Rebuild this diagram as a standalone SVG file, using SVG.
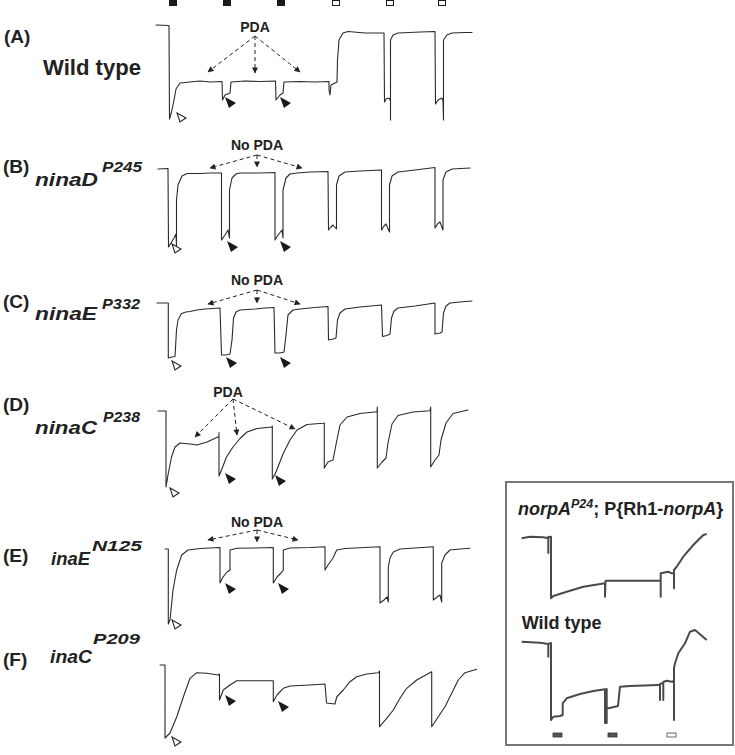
<svg xmlns="http://www.w3.org/2000/svg" xmlns:xlink="http://www.w3.org/1999/xlink" width="735" height="755" viewBox="0 0 735 755">
<style>
.tr{fill:none;stroke:#2a2a2a;stroke-width:1.1;stroke-linejoin:round;stroke-linecap:round}
.it{fill:none;stroke:#4a4a4a;stroke-width:2;stroke-linejoin:round}
.pl{font-family:"Liberation Sans",Arial,sans-serif;font-weight:bold;font-size:19px;fill:#222}
.gn{font-family:"Liberation Sans",Arial,sans-serif;font-weight:bold;font-style:italic;font-size:19px;fill:#222}
.sp{font-family:"Liberation Sans",Arial,sans-serif;font-weight:bold;font-style:italic;font-size:15px;fill:#222}
.wt{font-family:"Liberation Sans",Arial,sans-serif;font-weight:bold;font-size:22px;fill:#222}
.pda{font-family:"Liberation Sans",Arial,sans-serif;font-weight:bold;font-size:14px;fill:#222;text-anchor:middle}
.da{fill:none;stroke:#222;stroke-width:1;stroke-dasharray:4 3;marker-end:url(#ah)}
.ins{font-family:"Liberation Sans",Arial,sans-serif;font-weight:bold;font-size:18px;fill:#222}
</style>
<defs>
<marker id="ah" viewBox="0 0 10 10" refX="9" refY="5" markerWidth="7" markerHeight="6" markerUnits="userSpaceOnUse" orient="auto"><path d="M0,0 L10,5 L0,10 z" fill="#222"/></marker>
<polygon id="tb" points="0,0 11,6 4,11" fill="#1a1a1a"/>
<polygon id="to" points="0,0 9,5 3,9" fill="#fff" stroke="#222" stroke-width="1.1"/>
</defs>
<rect width="735" height="755" fill="#fff"/>

<g id="stimulus">
<rect x="169" y="0" width="8" height="6" fill="#1a1a1a"/>
<rect x="223" y="0" width="8" height="6" fill="#1a1a1a"/>
<rect x="277" y="0" width="8" height="6" fill="#1a1a1a"/>
<rect x="332.5" y="0.5" width="7" height="5" fill="#fff" stroke="#1a1a1a"/>
<rect x="386.5" y="0.5" width="7" height="5" fill="#fff" stroke="#1a1a1a"/>
<rect x="438.5" y="0.5" width="7" height="5" fill="#fff" stroke="#1a1a1a"/>
</g>

<g id="panelA">
<text class="pl" x="4" y="43">(A)</text>
<text class="wt" x="43" y="75" textLength="98" lengthAdjust="spacingAndGlyphs">Wild type</text>
<text class="pda" x="255" y="32">PDA</text>
<path class="tr" d="M156,25 L169,25.5 L169.5,119 L171.5,112 L174,100 L176,89 L180,83 L190,82 L200,81 L210,82 L222,81.5 L222.5,100 L225,95 L230,93 L231,82 L245,81 L260,81.5 L275.5,81 L276,100 L280,95 L283,93 L284,82 L300,81.5 L315,82 L329,81.5 L329,90 L330,95 L331,85 L337,82 L337.5,60 L339,40 L343,33 L348,31.5 L365,33 L384,33 L384.5,102 L386,99 L389,98 L390.5,101 L390.5,120 L390.5,40 L393,35 L398,33 L420,32 L435,31.5 L435.5,104 L438,100 L442,98 L443,101 L443.5,120 L443.5,40 L447,35 L452,33 L465,32.5 L472,32.5"/>
<use xlink:href="#to" x="177" y="113"/>
<use xlink:href="#tb" x="225" y="97"/>
<use xlink:href="#tb" x="280" y="97"/>
</g>

<g id="panelB">
<text class="pl" x="3" y="173">(B)</text>
<text class="gn" x="35" y="186" textLength="63" lengthAdjust="spacingAndGlyphs">ninaD</text>
<text class="sp" x="102" y="172" textLength="40" lengthAdjust="spacingAndGlyphs">P245</text>
<text class="pda" x="257" y="150">No PDA</text>
<path class="tr" d="M158,169 L168,168.5 L168.5,247 L171,243 L174,238 L176,234 L176.5,246 L176.5,200 L178,185 L182,176 L187,173.5 L200,173.5 L210,173 L221.5,173 L221.5,240 L225,235 L228,230 L229.5,238 L229.5,190 L232,178 L236,174 L240,173 L260,173 L275,172.5 L275,240 L278,235 L282,230 L283,238 L283,190 L286,178 L290,174 L297,173 L310,172 L328,171.5 L328.5,230 L331,227 L333,225 L336.5,229 L336.5,185 L339,176 L345,172 L360,171 L381.5,170 L381.5,230 L384,226 L386,224 L389.5,232 L389.5,185 L392,176 L398,172 L415,170 L435,167.5 L435,228 L437.5,224 L440,222 L443,230 L443,180 L446,172 L452,169 L470,168"/>
<use xlink:href="#to" x="172" y="244"/>
<use xlink:href="#tb" x="227" y="241"/>
<use xlink:href="#tb" x="280" y="241"/>
</g>

<g id="panelC">
<text class="pl" x="3" y="308">(C)</text>
<text class="gn" x="35" y="320" textLength="62" lengthAdjust="spacingAndGlyphs">ninaE</text>
<text class="sp" x="102" y="309" textLength="38" lengthAdjust="spacingAndGlyphs">P332</text>
<text class="pda" x="257" y="285">No PDA</text>
<path class="tr" d="M157,303 L168.3,303 L168.3,358 L172,357 L175,356.5 L176.5,330 L178,320 L181.5,313.5 L186,312 L190,311.5 L197,310 L205,309 L213,308.5 L220,308 L221.5,355 L226,355 L230,354 L232,340 L233.5,318 L236,312 L240,310 L255,309 L265,308 L274,307.5 L275,353 L280,353 L284,352 L286,335 L288,315 L293,310 L300,309 L315,307.5 L328,306.5 L328.5,340 L333,339 L336,338 L337.5,320 L340,313 L345,309 L360,307 L381.5,305 L382.5,336.5 L387,335.5 L390,334 L391.5,318 L394,311 L398,308 L415,306 L435,303 L435,334 L440,333 L442,332 L443.5,313 L446,306 L450,303 L460,302 L472,301"/>
<use xlink:href="#to" x="172" y="361"/>
<use xlink:href="#tb" x="226" y="357"/>
<use xlink:href="#tb" x="280" y="357"/>
</g>

<g id="panelD">
<text class="pl" x="3" y="411">(D)</text>
<text class="gn" x="35" y="434" textLength="62" lengthAdjust="spacingAndGlyphs">ninaC</text>
<text class="sp" x="103" y="422" textLength="37" lengthAdjust="spacingAndGlyphs">P238</text>
<text class="pda" x="228" y="397">PDA</text>
<path class="tr" d="M158,411 L166,411 L166,487 L168,475 L171.5,457 L175,447 L180,443 L190,444 L197,445 L207,442 L219,436.5 L219,432.5 L219,476 L221.5,470 L226.5,457 L233,447 L240,438.5 L247,432 L257,428.5 L272,427 L272.3,426 L272.3,479 L276,472 L283,454 L290,440 L297,430 L307,424.5 L323,423.3 L324.3,423 L324.3,468 L328,462 L333,460 L336.5,442 L340,425 L347,417 L360,413.5 L377,411.7 L377.3,407 L377.3,468 L382,462 L386,458 L388,443 L392,424 L398,415.5 L413,412 L430,410.7 L430.7,407 L430.7,467 L435,460 L439,455 L441,440 L446,423 L453,413.5 L468,410"/>
<use xlink:href="#to" x="170" y="488"/>
<use xlink:href="#tb" x="225" y="473"/>
<use xlink:href="#tb" x="275" y="475"/>
</g>

<g id="panelE">
<text class="pl" x="3" y="562">(E)</text>
<text class="gn" x="51" y="565" textLength="39" lengthAdjust="spacingAndGlyphs">inaE</text>
<text class="sp" x="92" y="551" textLength="50" lengthAdjust="spacingAndGlyphs">N125</text>
<text class="pda" x="257" y="527">No PDA</text>
<path class="tr" d="M165,549 L168.3,549 L168.3,624 L170,620 L173,590 L176.7,570 L181.7,555 L188,550 L200,548.5 L210,548 L220,547.5 L220,583 L223,577 L227,572 L230,570 L230,550 L236.7,548.3 L255,548 L273.3,547.5 L273.3,583 L277,577 L281,573 L283.3,570 L283.3,550 L290,548 L310,547.5 L325,546.7 L325,570 L328,565 L333,558 L336.7,550 L345,548.5 L365,547.5 L380,546.7 L380,603 L384,600 L387,597 L388.3,602 L388.3,567 L390,558 L393.3,552 L400,549 L415,548 L433.3,546.7 L433.3,600 L437,597 L440,595 L441.7,602 L441.7,563 L445,555 L450,550 L460,549 L470,548.3"/>
<use xlink:href="#to" x="172" y="620"/>
<use xlink:href="#tb" x="225" y="583"/>
<use xlink:href="#tb" x="278" y="583"/>
</g>

<g id="panelF">
<text class="pl" x="3" y="666">(F)</text>
<text class="gn" x="50" y="663" textLength="42" lengthAdjust="spacingAndGlyphs">inaC</text>
<text class="sp" x="93" y="644" textLength="47" lengthAdjust="spacingAndGlyphs">P209</text>
<path class="tr" d="M160,665 L165,665 L165,738 L170,733 L176.7,717 L183.3,697 L190,678.3 L196.7,672.7 L206.7,673.3 L218.3,675 L219.5,674 L219.5,700 L223.3,690 L230,685 L236.7,680.7 L255,680.7 L273.3,680.7 L273.3,701.7 L277,695 L283.3,688.3 L290,686 L310,685 L325,684 L326.5,703 L335,704 L336.7,697 L343.3,690 L350,681.7 L356.7,676.7 L366.7,674 L378.3,672.7 L379.5,671 L379.5,726.7 L386.7,718.3 L393.3,710 L400,698.3 L406.7,688.3 L416.7,680 L431.7,671.7 L431.7,726.7 L438.3,716.7 L445,706.7 L451.7,693.3 L458.3,680 L465,672.7 L476.7,669.3"/>
<use xlink:href="#to" x="172" y="737"/>
<use xlink:href="#tb" x="225" y="695"/>
<use xlink:href="#tb" x="278" y="701"/>
</g>

<g id="inset">
<rect x="506" y="482" width="227" height="263" fill="#fff" stroke="#777" stroke-width="2"/>
<text class="ins" x="518" y="515" font-size="18.6px"><tspan font-style="italic">norpA</tspan><tspan font-style="italic" font-size="12.5px" dy="-7">P24</tspan><tspan dy="7">; P{Rh1-</tspan><tspan font-style="italic">norpA</tspan>}</text>
<path class="it" d="M521.7,538.3 L530,536.7 L543.3,537.3 L548.3,538.3 L548.3,553 L548.3,537 L551,536.7 L551,598.3 L553.3,596 L566.7,591.7 L583.3,586.7 L605,583.3 L605,596.7 L605.5,581 L606.7,580.7 L630,580.7 L656.7,580.7 L660.7,580.5 L660.7,596.7 L660.7,573.3 L663.3,572.7 L668.3,571.7 L671.7,573.3 L674,573 L674,588.3 L674,570 L676.7,566.7 L683.3,556.7 L693.3,545 L703.3,535 L706.7,534"/>
<text class="ins" x="521.7" y="629">Wild type</text>
<path class="it" d="M521.7,641.7 L540,642.7 L548.3,644 L548.3,656.7 L548.3,644 L551,643 L551,720 L553.3,716.7 L560,716 L562.7,715 L562.7,703.3 L566.7,698.3 L580,694 L593.3,691 L605,689.3 L605,723 L606.7,723 L606.7,689 L606.7,708.3 L608.3,708.3 L615,706.7 L618,706 L620,686.7 L630,686 L658.3,685 L660,685 L660,700 L660,684 L663.3,683 L663.3,700 L663.3,682 L666.7,680.7 L671.7,681.7 L674,681 L674,720 L674,668 L675,663.3 L678.3,653.3 L685,643.3 L690,631.7 L695,630 L706.7,640"/>
<rect x="553" y="733" width="9" height="4" fill="#555" stroke="#333" stroke-width="0.8"/>
<rect x="608" y="733" width="9" height="4" fill="#555" stroke="#333" stroke-width="0.8"/>
<rect x="667" y="733" width="9" height="4" fill="#fff" stroke="#444" stroke-width="0.8"/>
</g>

<g id="connectors">
<path class="da" d="M255,36 L208,72"/>
<path class="da" d="M255,36 L255,73"/>
<path class="da" d="M255,36 L300,72"/>
<path class="da" d="M257,155 L210,168"/>
<path class="da" d="M257,155 L257,167"/>
<path class="da" d="M257,155 L302,168"/>
<path class="da" d="M257,290 L208,304"/>
<path class="da" d="M257,290 L257,303"/>
<path class="da" d="M257,290 L300,304"/>
<path class="da" d="M233,399 L195,437"/>
<path class="da" d="M233,399 L237,435"/>
<path class="da" d="M233,399 L295,429"/>
<path class="da" d="M257,530 L208,540"/>
<path class="da" d="M257,530 L257,542"/>
<path class="da" d="M257,530 L298,540"/>
</g>
</svg>
